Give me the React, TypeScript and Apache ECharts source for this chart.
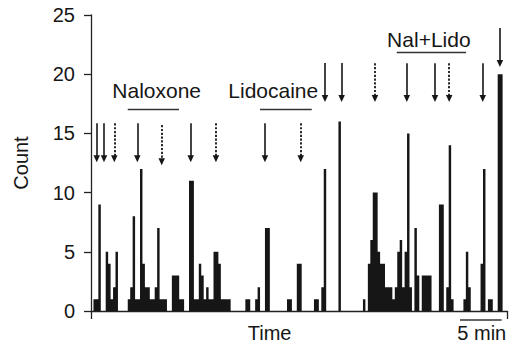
import React, { useEffect, useRef } from "react";
import * as echarts from "echarts";

// Histogram counts per time bin (bin ≈ 5/17 min)
const COUNTS: number[] = [
  0, 1, 1, 9, 0, 0, 5, 4, 1, 2,
  5, 0, 0, 0, 0, 1, 2, 8, 1, 1,
  12, 4, 2, 2, 1, 1, 2, 7, 1, 1,
  1, 0, 0, 3, 3, 3, 1, 1, 0, 0,
  11, 11, 1, 1, 4, 3, 1, 2, 1, 1,
  5, 5, 4, 1, 1, 1, 1, 0, 0, 0,
  0, 0, 0, 1, 1, 0, 0, 1, 2, 0,
  0, 7, 7, 0, 0, 0, 0, 0, 0, 0,
  1, 1, 0, 0, 4, 4, 0, 0, 0, 0,
  0, 1, 1, 0, 2, 12, 0, 0, 0, 0,
  0, 16, 0, 0, 0, 0, 0, 0, 0, 0,
  0, 1, 0, 4, 6, 10, 10, 5, 4, 4,
  2, 2, 2, 1, 2, 5, 6, 2, 5, 15,
  2, 0, 7, 3, 0, 3, 3, 3, 3, 0,
  0, 0, 9, 9, 0, 2, 14, 1, 0, 0,
  0, 0, 1, 5, 2, 0, 0, 0, 0, 4,
  12, 0, 1, 1, 0, 0, 20, 20, 0, 0,
];

const Y_TICKS = [0, 5, 10, 15, 20, 25];

// Injection arrows (x in bins, y in counts)
const ARROW_X = [2.33, 5.31, 9.51, 18.9, 28.86, 40.7, 51.0, 71.0, 85.6, 95.5, 102.3, 115.9, 128.9, 140.4, 146.2, 159.9, 166.9];
const ARROW_TOP = [15.85, 15.85, 15.85, 15.85, 15.7, 15.85, 15.85, 15.85, 15.85, 20.95, 20.95, 20.92, 20.92, 20.92, 20.92, 20.92, 23.9];
const ARROW_END = [12.85, 12.85, 12.85, 12.85, 12.6, 12.85, 12.85, 12.85, 12.85, 17.95, 17.95, 17.95, 17.95, 17.95, 17.95, 17.95, 20.9];
const ARROW_DASHED = [false, false, true, false, true, false, true, false, true, false, false, true, false, false, true, false, false];

// Treatment labels with underline spans
const TREATMENTS = ["Naloxone", "Lidocaine", "Nal+Lido"];
const TREAT_TEXT_X = [26.8, 74.4, 137.9];
const TREAT_TEXT_Y = [18.6, 18.6, 22.9];
const TREAT_LINE_X1 = [15.0, 69.0, 124.8];
const TREAT_LINE_X2 = [35.9, 90.1, 153.1];
const TREAT_LINE_Y = [17.03, 17.03, 21.85];

// Scale bar: 5 min, and the time label (below the axis)
const SCALE_X1 = 150.6;
const SCALE_X2 = 167.6;
const SCALE_Y = -0.76;
const SCALE_LABEL = "5 min";
const SCALE_LABEL_X = 159.5;
const TIME_LABEL = "Time";
const TIME_LABEL_X = 72.9;
const BOTTOM_TEXT_Y = -1.9;

const FONT = '"Liberation Sans", Arial, Helvetica, sans-serif';
const INK = "#161616";

export default function App() {
  const ref = useRef<HTMLDivElement>(null);

  useEffect(() => {
    if (!ref.current) return;
    const chart = echarts.init(ref.current, undefined, { renderer: "svg" });
    const N = COUNTS.length;
    const categories = COUNTS.map((_, i) => String(i));

    const arrowData = ARROW_X.map((x, i) => [
      {
        coord: [x, ARROW_TOP[i]],
        lineStyle: ARROW_DASHED[i]
          ? { type: [2.2, 1.6], width: 1.8, color: INK }
          : { type: "solid", width: 1.6, color: INK },
      },
      { coord: [x, ARROW_END[i]] },
    ]);

    const lineData: any[] = TREATMENTS.map((_, i) => [
      { coord: [TREAT_LINE_X1[i], TREAT_LINE_Y[i]] },
      { coord: [TREAT_LINE_X2[i], TREAT_LINE_Y[i]] },
    ]);

    const textPoints: any[] = TREATMENTS.map((t, i) => ({
      name: t,
      coord: [TREAT_TEXT_X[i], TREAT_TEXT_Y[i]],
    }));

    chart.setOption({
      animation: false,
      backgroundColor: "#ffffff",
      textStyle: { fontFamily: FONT },
      grid: {
        left: 91,
        right: 1.5,
        top: 15,
        bottom: 34,
        containLabel: false,
        outerBoundsMode: "none",
      },
      xAxis: [
        {
          type: "category",
          data: categories,
          boundaryGap: true,
          axisLine: { show: true, lineStyle: { color: "#222", width: 1.3 } },
          axisTick: { show: false },
          axisLabel: { show: false },
          splitLine: { show: false },
        },
        {
          type: "value",
          position: "bottom",
          min: 0,
          max: N,
          interval: N,
          axisLine: { show: false },
          axisTick: { show: true, length: 8, lineStyle: { color: "#222", width: 1.3 } },
          axisLabel: { show: false },
          splitLine: { show: false },
        },
      ],
      yAxis: {
        type: "value",
        min: 0,
        max: 25,
        interval: 5,
        name: "Count",
        nameLocation: "middle",
        nameRotate: 90,
        nameGap: 60,
        nameTextStyle: { fontSize: 20, color: INK, fontFamily: FONT },
        axisLine: { show: true, lineStyle: { color: "#222", width: 1.3 } },
        axisTick: { show: true, length: 7, lineStyle: { color: "#222", width: 1.3 } },
        axisLabel: {
          fontSize: 20,
          color: INK,
          fontFamily: FONT,
          margin: 16,
          padding: [3, 0, 0, 0],
          formatter: (v: number) => (Y_TICKS.includes(v) ? String(v) : ""),
        },
        splitLine: { show: false },
      },
      series: [
        {
          type: "bar",
          xAxisIndex: 0,
          yAxisIndex: 0,
          data: COUNTS,
          barCategoryGap: "0%",
          large: true,
          largeThreshold: 20,
          itemStyle: { color: INK },
          silent: true,
        },
        {
          type: "scatter",
          xAxisIndex: 1,
          yAxisIndex: 0,
          data: [],
          clip: false,
          silent: true,
          markLine: {
            silent: true,
            symbol: ["none", "triangle"],
            symbolSize: [6.5, 7],
            label: { show: false },
            lineStyle: { color: INK, width: 1.6 },
            itemStyle: { color: INK },
            data: arrowData,
          },
        },
        {
          type: "scatter",
          xAxisIndex: 1,
          yAxisIndex: 0,
          data: [],
          clip: false,
          silent: true,
          markLine: {
            silent: true,
            symbol: ["none", "none"],
            label: { show: false },
            lineStyle: { color: "#333", width: 1.3, type: "solid" },
            data: lineData,
          },
          markPoint: {
            silent: true,
            symbol: "rect",
            symbolSize: 1,
            itemStyle: { color: "transparent" },
            label: {
              show: true,
              position: "inside",
              formatter: "{b}",
              fontSize: 21,
              color: INK,
              fontFamily: FONT,
            },
            data: textPoints,
          },
        },
      ],
    });

    // Items below the x axis, placed through the axes' scales
    const toPx = (x: number, y: number) =>
      chart.convertToPixel({ xAxisIndex: 1, yAxisIndex: 0 }, [x, y]) as number[];
    const s1 = toPx(SCALE_X1, SCALE_Y);
    const s2 = toPx(SCALE_X2, SCALE_Y);
    const tTime = toPx(TIME_LABEL_X, BOTTOM_TEXT_Y);
    const tScale = toPx(SCALE_LABEL_X, BOTTOM_TEXT_Y);
    const textStyle = (text: string) => ({
      text,
      fontSize: 20,
      fontFamily: FONT,
      fill: INK,
      align: "center",
      verticalAlign: "middle",
    });
    chart.setOption({
      graphic: [
        {
          type: "line",
          silent: true,
          shape: { x1: s1[0], y1: s1[1], x2: s2[0], y2: s2[1] },
          style: { stroke: "#333", lineWidth: 1.3 },
        },
        { type: "text", silent: true, x: tTime[0], y: tTime[1], style: textStyle(TIME_LABEL) },
        { type: "text", silent: true, x: tScale[0], y: tScale[1], style: textStyle(SCALE_LABEL) },
      ],
    });

    return () => chart.dispose();
  }, []);

  return (
    <div
      ref={ref}
      style={{ position: "fixed", left: 0, top: 0, width: 509, height: 345, background: "#fff" }}
    />
  );
}
